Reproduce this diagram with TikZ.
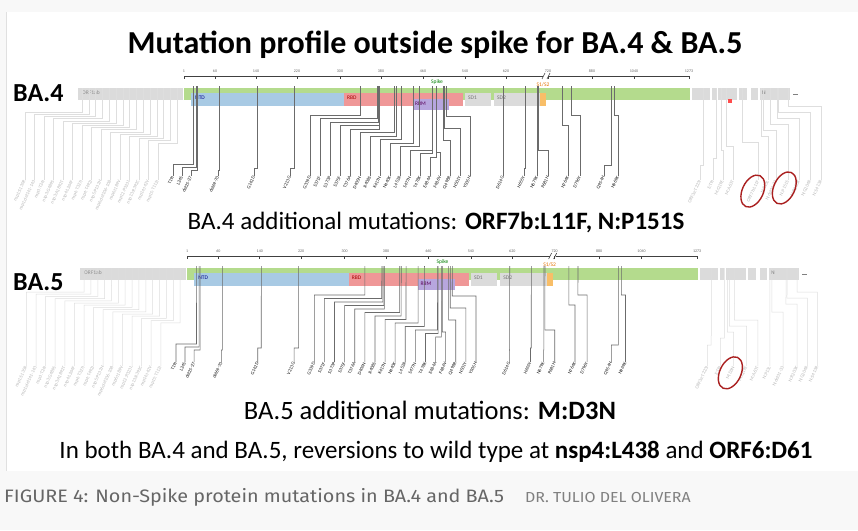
\documentclass[tikz,border=0pt]{standalone}
\usepackage{fontspec}
\setmainfont{Carlito}
\newfontfamily\captionfont[FakeStretch=1.1]{Fira Sans}
\usetikzlibrary{positioning}

\definecolor{paper}{RGB}{248,248,248}
\definecolor{spikegreen}{RGB}{180,219,141}
\definecolor{ntdblue}{RGB}{168,202,228}
\definecolor{rbdred}{RGB}{239,151,151}
\definecolor{rbmpurple}{RGB}{183,166,222}
\definecolor{domgray}{RGB}{219,219,219}
\definecolor{cleaveorange}{RGB}{248,190,104}
\definecolor{ringred}{RGB}{170,32,32}

\tikzset{
  axisline/.style={draw=black!75, line width=0.6pt},
  ticklabel/.style={font=\fontsize{4}{4}\selectfont, text=black!60, inner sep=0pt},
  mutline/.style={draw=black!58, line width=0.6pt},
  fadeline/.style={draw=black!13, line width=0.5pt},
  mutlabel/.style={font=\fontsize{4.8}{5}\selectfont, text=black!90, rotate=65, anchor=east, inner sep=0.4pt},
  fadelabel/.style={mutlabel, text=black!28},
  domlabel/.style={font=\fontsize{5.5}{6}\selectfont, inner sep=0pt, anchor=west},
  panelname/.style={font=\fontsize{26}{28}\selectfont\bfseries, anchor=west, inner sep=0pt},
  subtitle/.style={font=\fontsize{25}{28}\selectfont, inner sep=0pt},
  ring/.style={draw=ringred, line width=1.4pt}
}

% spike mutations: top x / label x / bend y / name
\newcommand\spikemuts{193.4/173/164/T19I, 196/182/167/L24S, 197/191/170/del25-27,
  219/218/170/del69-70, 257.5/254/168/G142D, 294.5/290/168/V213G,
  360/310/115/G339D, 376.8/320/118.5/S371F, 377.9/330/122/S373P, 378.9/340/125.5/S375F,
  379.4/350/129/T376A, 394.5/360/132.5/D405N, 396/370/136/R408S, 400.8/380/139.5/K417N,
  412.8/390/143/N440K, 419/400/146.5/L452R, 432/410/150/S477N, 432.6/420/153.5/T478K,
  435.8/430/157/E484A, 436.7/440/152/F486V, 443/450/140/Q498R, 444.6/460/128/N501Y,
  446.6/470/116/Y505H, 503.4/503/170/D614G, 524.8/524/168/H655Y, 537.3/537/170/N679K,
  538.3/548/150/P681H, 562/568/125/N764K, 571/580/115/D796Y, 611/604/165/Q954H,
  614/618/115/N969K}
% ORF1ab mutations (shared by both lineages)
\newcommand\orfmuts{nsp1:S135R, nsp1:del141-143, nsp3:T24I, nsp3:G489S, nsp3:A1892T,
  nsp4:L264F, nsp4:T327I, nsp4:T492I, nsp5:P132H, nsp6:del106-108, nsp6:I189V,
  nsp12:P323L, nsp13:R392C, nsp14:I42V, nsp15:T112I}
% downstream genes
\newcommand\geneboxes{692/710, 712/716, 718/737, 739/747, 751/758, 760/790}

\begin{document}
\begin{tikzpicture}[x=1pt, y=-1pt]
  \useasboundingbox (0,0) rectangle (858,530);

  % Fondo della pagina
  \fill[paper] (0,0) rectangle (858,530);
  \fill[white] (6,12) rectangle (858,471);
  \draw[black!12] (6,12) -- (6,471);

  % Titolo
  \node[font=\fontsize{32}{36}\selectfont\bfseries, inner sep=0pt] (title) at (435,45)
    {Mutation profile outside spike for BA.4 \& BA.5};

  % ---------------- BA.4 ----------------
  \node[panelname] (ba4) at (13,93) {BA.4};
  \begin{scope}
    % asse
    \draw[axisline] (184,76) -- (543,76) (549,76) -- (690,76);
    \draw[axisline] (542,79) -- (545,73) (547,79) -- (550,73);
    \foreach \x/\v in {184/1, 215/60, 256/140, 297/220, 340/300, 381/380, 423/460,
      465/540, 506/620, 548/720, 592/880, 634/1040, 689/1273} {
      \draw[axisline] (\x,76) -- (\x,79);
      \node[ticklabel] (a-k\v) at (\x,71) {\v};
    }
    % geni
    \fill[domgray] (78,88) rectangle (183,100);
    \node[domlabel, text=black!45] (a-orf) at (82,93) {ORF1ab};
    \fill[spikegreen] (184,88) rectangle (690,100);
    \fill[ntdblue] (191,93) rectangle (344,106);
    \fill[rbdred] (344,93) rectangle (463,106);
    \fill[rbmpurple] (413,99) rectangle (449,110);
    \fill[domgray] (465,93) rectangle (491,106);
    \fill[domgray] (494,93) rectangle (540,106);
    \fill[cleaveorange] (540,93) rectangle (546,106);
    \foreach \xa/\xb in \geneboxes {\fill[domgray] (\xa,88) rectangle (\xb,100);}
    \draw[black!50] (793,94) -- (798,94);
    \fill[red!70] (728,99) rectangle (732,103);
    \node[domlabel, text=blue!55!black] (a-ntd) at (195,98) {NTD};
    \node[domlabel, text=red!65!black] (a-rbd) at (347,98) {RBD};
    \node[domlabel, text=violet!70!black] (a-rbm) at (415,104) {RBM};
    \node[domlabel, text=black!55] (a-sd1) at (468,98) {SD1};
    \node[domlabel, text=black!55] (a-sd2) at (497,98) {SD2};
    \node[domlabel, text=black!55] (a-n) at (762,93) {N};
    \node[domlabel, text=green!50!black, anchor=center] (a-spike) at (437,82) {Spike};
    \node[domlabel, text=orange!90!black, anchor=center] (a-s12) at (543,85) {S1/S2};

    % mutazioni ORF1ab
    \foreach \mname [count=\j] in \orfmuts {
      \pgfmathsetmacro\tx{82+6.8*(\j-1)}
      \pgfmathsetmacro\lx{25+9.5*(\j-1)}
      \pgfmathsetmacro\by{112+2.2*(\j-1)}
      \coordinate (a-ot\j) at (\tx,88);
      \node[fadelabel] (a-om\j) at (\lx,180) {\mname};
      \draw[fadeline] (a-ot\j) -- (\tx,\by) -| (a-om\j.east);
    }
    % mutazioni spike
    \foreach \tx/\lx/\by/\mname [count=\i] in \spikemuts {
      \coordinate (a-t\i) at (\tx,86);
      \node[mutlabel] (a-m\i) at (\lx,176) {\mname};
      \draw[mutline] (a-t\i) -- (\tx,\by) -| (a-m\i.east);
    }
    % mutazioni a valle
    \foreach \tx/\lx/\by/\mname [count=\i] in {703/700/165/ORF3a:T223I, 716/713/158/E:T9I,
      721/723/150/M:Q19E, 726/733/146/M:A63T, 742/758/142/ORF7b:L11F, 761/768/136/N:P13L,
      763/776/130/N:del31-33, 770/788/124/N:P151S, 777/799/118/N:R203K,
      778/810/112/N:G204R, 788/821/106/N:S413R} {
      \coordinate (a-rt\i) at (\tx,88);
      \node[fadelabel] (a-r\i) at (\lx,180) {\mname};
      \draw[fadeline] (a-rt\i) -- (\tx,\by) -| (a-r\i.east);
    }
    % nuove mutazioni
    \draw[ring] (a-r5.center) circle[x radius=17pt, y radius=10.5pt, rotate=65];
    \draw[ring] (a-r8.center) circle[x radius=17pt, y radius=10.5pt, rotate=65];
  \end{scope}

  \node[subtitle] (add4) at (436,222)
    {BA.4 additional mutations: \textbf{ORF7b:L11F, N:P151S}};

  % ---------------- BA.5 ----------------
  \node[panelname] (ba5) at (13,282) {BA.5};
  \begin{scope}[shift={(1.2,180)}, xscale=1.01]
    % asse
    \draw[axisline] (184,76) -- (543,76) (549,76) -- (690,76);
    \draw[axisline] (542,79) -- (545,73) (547,79) -- (550,73);
    \foreach \x/\v in {184/1, 215/60, 256/140, 297/220, 340/300, 381/380, 423/460,
      465/540, 506/620, 548/720, 592/880, 634/1040, 689/1273} {
      \draw[axisline] (\x,76) -- (\x,79);
      \node[ticklabel] (b-k\v) at (\x,71) {\v};
    }
    % geni
    \fill[domgray] (78,88) rectangle (183,100);
    \node[domlabel, text=black!45] (b-orf) at (82,93) {ORF1ab};
    \fill[spikegreen] (184,88) rectangle (690,100);
    \fill[ntdblue] (191,93) rectangle (344,106);
    \fill[rbdred] (344,93) rectangle (463,106);
    \fill[rbmpurple] (413,99) rectangle (449,110);
    \fill[domgray] (465,93) rectangle (491,106);
    \fill[domgray] (494,93) rectangle (540,106);
    \fill[cleaveorange] (540,93) rectangle (546,106);
    \foreach \xa/\xb in \geneboxes {\fill[domgray] (\xa,88) rectangle (\xb,100);}
    \draw[black!50] (793,94) -- (798,94);
    \node[domlabel, text=blue!55!black] (b-ntd) at (195,98) {NTD};
    \node[domlabel, text=red!65!black] (b-rbd) at (347,98) {RBD};
    \node[domlabel, text=violet!70!black] (b-rbm) at (415,104) {RBM};
    \node[domlabel, text=black!55] (b-sd1) at (468,98) {SD1};
    \node[domlabel, text=black!55] (b-sd2) at (497,98) {SD2};
    \node[domlabel, text=black!55] (b-n) at (762,93) {N};
    \node[domlabel, text=green!50!black, anchor=center] (b-spike) at (437,82) {Spike};
    \node[domlabel, text=orange!90!black, anchor=center] (b-s12) at (543,85) {S1/S2};

    % mutazioni ORF1ab
    \foreach \mname [count=\j] in \orfmuts {
      \pgfmathsetmacro\tx{82+6.8*(\j-1)}
      \pgfmathsetmacro\lx{25+9.5*(\j-1)}
      \pgfmathsetmacro\by{112+2.2*(\j-1)}
      \coordinate (b-ot\j) at (\tx,88);
      \node[fadelabel] (b-om\j) at (\lx,186) {\mname};
      \draw[fadeline] (b-ot\j) -- (\tx,\by) -| (b-om\j.east);
    }
    % mutazioni spike
    \foreach \tx/\lx/\by/\mname [count=\i] in \spikemuts {
      \coordinate (b-t\i) at (\tx,86);
      \node[mutlabel] (b-m\i) at (\lx,182) {\mname};
      \draw[mutline] (b-t\i) -- (\tx,\by) -| (b-m\i.east);
    }
    % mutazioni a valle
    \foreach \tx/\lx/\by/\mname [count=\i] in {703/699/165/ORF3a:T223I, 716/712/158/E:T9I,
      719/725/152/M:D3N, 721/738/146/M:Q19E, 726/749/140/M:A63T, 761/761/170/N:P13L,
      763/774/132/N:del31-33, 777/788/124/N:R203K, 778/798/118/N:G204R,
      788/808/112/N:S413R} {
      \coordinate (b-rt\i) at (\tx,88);
      \node[fadelabel] (b-r\i) at (\lx,186) {\mname};
      \draw[fadeline] (b-rt\i) -- (\tx,\by) -| (b-r\i.east);
    }
    % nuova mutazione
    \draw[ring] (b-r3.center) circle[x radius=17pt, y radius=10.5pt, rotate=65];
  \end{scope}

  \node[subtitle, font=\fontsize{26.5}{30}\selectfont] (add5) at (430,410)
    {BA.5 additional mutations: \textbf{M:D3N}};
  \node[subtitle] (both) at (436,452)
    {In both BA.4 and BA.5, reversions to wild type at \textbf{nsp4:L438} and \textbf{ORF6:D61}};

  % Didascalia
  \node[font=\captionfont\fontsize{18}{21}\selectfont, text=black!60, anchor=west, inner sep=0pt]
    (caption) at (4,497) {FIGURE 4: Non-Spike protein mutations in BA.4 and BA.5};
  \node[font=\captionfont\fontsize{14.5}{17}\selectfont, text=black!50, anchor=west, inner sep=0pt]
    (credit) at (525,497) {DR. TULIO DEL OLIVERA};
\end{tikzpicture}
\end{document}
